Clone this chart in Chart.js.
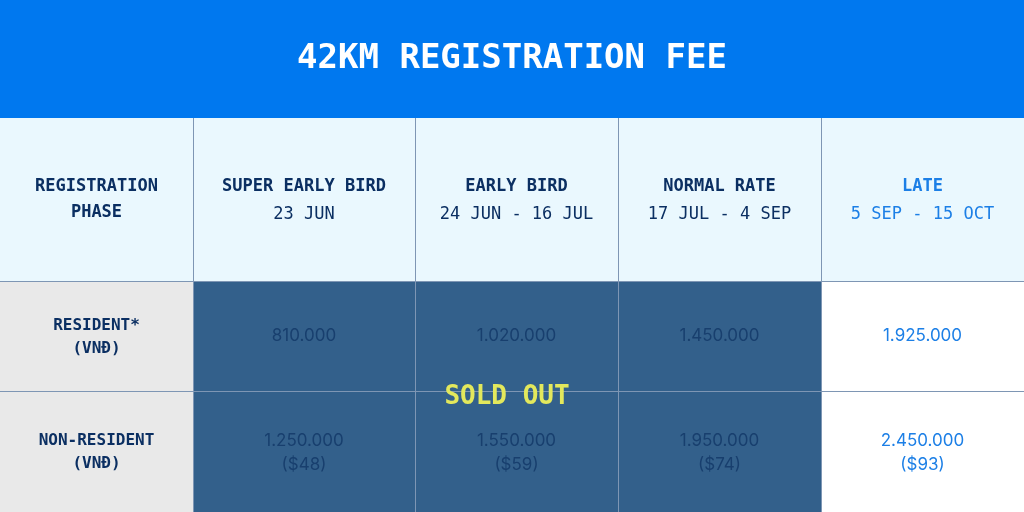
<!DOCTYPE html>
<html>
<head>
<meta charset="utf-8">
<script src="https://cdn.jsdelivr.net/npm/chart.js@4"></script>
<style>
  html, body { margin: 0; padding: 0; background: #fff; }
  #wrap { width: 1024px; height: 512px; }
</style>
</head>
<body>
<div id="wrap"><canvas id="c" width="1024" height="512"></canvas></div>
<script>
const title = "42KM REGISTRATION FEE";
const phases = ["SUPER EARLY BIRD", "EARLY BIRD", "NORMAL RATE", "LATE"];
const phaseDates = ["23 JUN", "24 JUN - 16 JUL", "17 JUL - 4 SEP", "5 SEP - 15 OCT"];
const rowLabels = [["RESIDENT*", "(VNĐ)"], ["NON-RESIDENT", "(VNĐ)"]];
const residentFees = ["810.000", "1.020.000", "1.450.000", "1.925.000"];
const nonResidentFees = ["1.250.000", "1.550.000", "1.950.000", "2.450.000"];
const nonResidentUsd = ["($48)", "($59)", "($74)", "($93)"];
const soldOut = [true, true, true, false];

// layout (scale units = px)
const colEdges = [0, 193, 415, 618, 821, 1024];
const rowEdges = [0, 118, 281, 391, 512];

const mono = "'DejaVu Sans Mono', monospace";
const sans = "Inter, 'Noto Sans', sans-serif";

const tablePlugin = {
  id: "table",
  afterDraw(chart) {
    const ctx = chart.ctx, xs = chart.scales.x, ys = chart.scales.y;
    const X = v => xs.getPixelForValue(v), Y = v => ys.getPixelForValue(v);
    const rect = (c0, c1, r0, r1, fill) => {
      ctx.fillStyle = fill;
      ctx.fillRect(X(colEdges[c0]), Y(rowEdges[r0]), X(colEdges[c1]) - X(colEdges[c0]), Y(rowEdges[r1]) - Y(rowEdges[r0]));
    };
    const cx = c => (X(colEdges[c]) + X(colEdges[c + 1])) / 2;
    const cy = r => (Y(rowEdges[r]) + Y(rowEdges[r + 1])) / 2;
    const text = (s, x, y, font, color) => {
      ctx.font = font; ctx.fillStyle = color;
      ctx.textAlign = "center"; ctx.textBaseline = "middle";
      ctx.fillText(s, x, y);
    };
    ctx.save();
    rect(0, 5, 0, 1, "#0078EF");
    rect(0, 5, 1, 2, "#EAF8FE");
    rect(0, 1, 2, 4, "#E9E9E9");
    rect(1, 5, 2, 4, "#FFFFFF");
    soldOut.forEach((s, i) => { if (s) rect(i + 1, i + 2, 2, 4, "#33608B"); });

    // grid lines
    ctx.strokeStyle = "#7E96B4"; ctx.lineWidth = 1;
    for (let c = 1; c < colEdges.length - 1; c++) {
      ctx.beginPath(); ctx.moveTo(X(colEdges[c]) + 0.5, Y(rowEdges[1])); ctx.lineTo(X(colEdges[c]) + 0.5, Y(rowEdges[4])); ctx.stroke();
    }
    for (let r = 2; r < rowEdges.length - 1; r++) {
      ctx.beginPath(); ctx.moveTo(X(colEdges[0]), Y(rowEdges[r]) + 0.5); ctx.lineTo(X(colEdges[5]), Y(rowEdges[r]) + 0.5); ctx.stroke();
    }

    text(title, cx(0) * 0 + X(512), cy(0), "bold 34px " + mono, "#FFFFFF");
    const navy = "#0B2F62", late = "#1C7FE6", dim = "#183F6E";
    text("REGISTRATION", cx(0), Y(187), "bold 17px " + mono, navy);
    text("PHASE", cx(0), Y(213), "bold 17px " + mono, navy);
    phases.forEach((p, i) => {
      const col = soldOut[i] ? navy : late;
      text(p, cx(i + 1), Y(187), "bold 17px " + mono, col);
      text(phaseDates[i], cx(i + 1), Y(215), "17px " + mono, col);
    });
    text(rowLabels[0][0], cx(0), Y(326), "bold 16px " + mono, navy);
    text(rowLabels[0][1], cx(0), Y(349), "bold 16px " + mono, navy);
    text(rowLabels[1][0], cx(0), Y(441), "bold 16px " + mono, navy);
    text(rowLabels[1][1], cx(0), Y(464), "bold 16px " + mono, navy);
    residentFees.forEach((v, i) => text(v, cx(i + 1), cy(2), "17px " + sans, soldOut[i] ? dim : late));
    nonResidentFees.forEach((v, i) => {
      const col = soldOut[i] ? dim : late;
      text(v, cx(i + 1), Y(441), "17px " + sans, col);
      text(nonResidentUsd[i], cx(i + 1), Y(465), "17px " + sans, col);
    });
    text("SOLD OUT", X(507), Y(397), "bold 26px " + mono, "#E3E85C");
    ctx.restore();
  }
};

new Chart(document.getElementById("c"), {
  type: "scatter",
  data: { datasets: [{ data: [] }] },
  options: {
    responsive: false,
    animation: false,
    layout: { padding: 0 },
    plugins: { legend: { display: false }, tooltip: { enabled: false } },
    scales: {
      x: { type: "linear", min: 0, max: 1024, display: false },
      y: { type: "linear", min: 0, max: 512, reverse: true, display: false }
    }
  },
  plugins: [tablePlugin]
});
</script>
</body>
</html>
